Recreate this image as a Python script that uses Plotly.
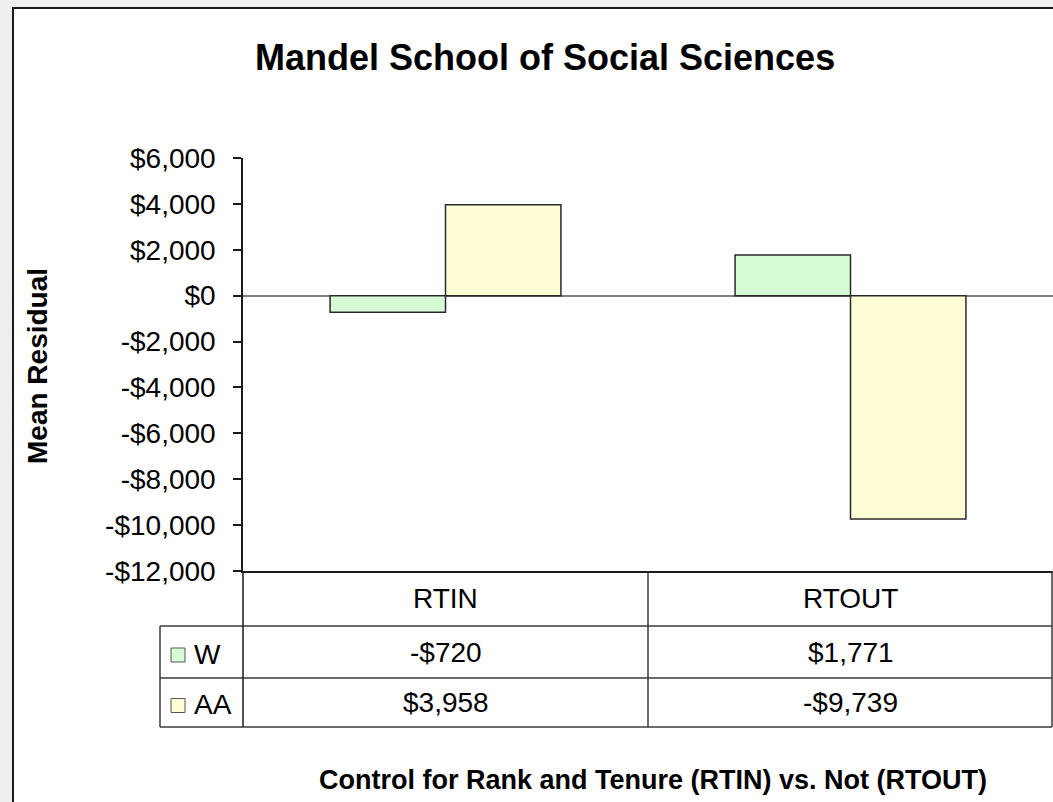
import plotly.graph_objects as go

# ---- data ----
categories = ["RTIN", "RTOUT"]
series_names = ["W", "AA"]
w_values = [-720, 1771]
aa_values = [3958, -9739]
tick_values = [6000, 4000, 2000, 0, -2000, -4000, -6000, -8000, -10000, -12000]
tick_labels = ["$6,000", "$4,000", "$2,000", "$0", "-$2,000", "-$4,000",
               "-$6,000", "-$8,000", "-$10,000", "-$12,000"]
series_colors = ["#D5FCD5", "#FFFDD5"]
title_text = "Mandel School of Social Sciences"
y_title = "Mean Residual"
x_title = "Control for Rank and Tenure (RTIN) vs. Not (RTOUT)"

W, H = 1053, 802
PL, PR, PT, PB = 243, 1053, 158, 571  # plot area in pixels
FONT = "Liberation Sans, Arial, sans-serif"


def px(x):
    return (x - PL) / (PR - PL)


def py(y):
    return (PB - y) / (PB - PT)


def money(v):
    return ("-" if v < 0 else "") + "${:,}".format(abs(v))


series_values = [w_values, aa_values]

fig = go.Figure()
for name, vals, col in zip(series_names, series_values, series_colors):
    fig.add_trace(go.Bar(
        x=categories, y=vals, name=name,
        marker=dict(color=col, line=dict(color="#2a2a2a", width=1.5)),
        hoverinfo="x+y+name",
    ))

shapes = []
# white chart area with black border
shapes.append(dict(type="rect", xref="paper", yref="paper", layer="below",
                   x0=px(13), x1=px(1070), y0=py(8), y1=py(820),
                   fillcolor="white", line=dict(color="#1a1a1a", width=2)))

LINE = dict(color="#3a3a3a", width=1.5)
# table horizontal lines
for yy, x0 in [(626, 160), (678, 160), (727, 160)]:
    shapes.append(dict(type="line", xref="paper", yref="paper",
                       x0=px(x0), x1=px(1052), y0=py(yy), y1=py(yy), line=LINE))
# table vertical lines
shapes.append(dict(type="line", xref="paper", yref="paper",
                   x0=px(160), x1=px(160), y0=py(626), y1=py(727), line=LINE))
shapes.append(dict(type="line", xref="paper", yref="paper",
                   x0=px(243), x1=px(243), y0=py(571), y1=py(727), line=dict(color="#1a1a1a", width=1.5)))
shapes.append(dict(type="line", xref="x", yref="paper",
                   x0=0.5, x1=0.5, y0=py(571), y1=py(727), line=LINE))
shapes.append(dict(type="line", xref="paper", yref="paper",
                   x0=px(1052), x1=px(1052), y0=py(571), y1=py(727), line=LINE))

# legend keys in table
row_centers = [652, 702.5]
for rc, col in zip(row_centers, series_colors):
    shapes.append(dict(type="rect", xref="paper", yref="paper",
                       x0=px(171), x1=px(185), y0=py(rc - 4), y1=py(rc + 10),
                       fillcolor=col, line=dict(color="#555555", width=1)))

annotations = []
# header row
for c in categories:
    annotations.append(dict(x=c, xref="x", y=py(598), yref="paper", text=c,
                            showarrow=False, font=dict(family=FONT, size=28, color="black"),
                            xanchor="center", yanchor="middle"))
# values
for rc, name, vals in zip(row_centers, series_names, series_values):
    annotations.append(dict(x=px(192), xref="paper", y=py(rc + 2), yref="paper", text=name,
                            showarrow=False, font=dict(family=FONT, size=28, color="black"),
                            xanchor="left", yanchor="middle"))
    for c, v in zip(categories, vals):
        annotations.append(dict(x=c, xref="x", y=py(rc), yref="paper", text=money(v),
                                showarrow=False, font=dict(family=FONT, size=28, color="black"),
                                xanchor="center", yanchor="middle"))
# titles
annotations.append(dict(x=px(545), xref="paper", y=py(58), yref="paper", text="<b>" + title_text + "</b>",
                        showarrow=False, font=dict(family=FONT, size=36, color="black"),
                        xanchor="center", yanchor="middle"))
annotations.append(dict(x=px(37), xref="paper", y=py(366), yref="paper", text="<b>" + y_title + "</b>",
                        showarrow=False, font=dict(family=FONT, size=28, color="black"),
                        textangle=-90, xanchor="center", yanchor="middle"))
annotations.append(dict(x=px(653), xref="paper", y=py(780), yref="paper", text="<b>" + x_title + "</b>",
                        showarrow=False, font=dict(family=FONT, size=27, color="black"),
                        xanchor="center", yanchor="middle"))

fig.update_layout(
    width=W, height=H,
    margin=dict(l=PL, r=W - PR, t=PT, b=H - PB, pad=0),
    paper_bgcolor="#EEEEEE",
    plot_bgcolor="rgba(0,0,0,0)",
    barmode="group", bargap=0.43, bargroupgap=0,
    showlegend=False,
    shapes=shapes, annotations=annotations,
    font=dict(family=FONT, size=28, color="black"),
)
fig.update_xaxes(showticklabels=False, showline=True, linecolor="#1a1a1a", linewidth=1.5,
                 ticks="", showgrid=False, zeroline=False, range=[-0.5, 1.5])
fig.update_yaxes(range=[-12000, 6000], tickvals=tick_values, ticktext=tick_labels,
                 ticks="outside", ticklen=8, tickwidth=1.5, tickcolor="#1a1a1a",
                 ticklabelstandoff=12,
                 showline=True, linecolor="#1a1a1a", linewidth=1.5,
                 showgrid=False, zeroline=True, zerolinecolor="#808080", zerolinewidth=1.5,
                 tickfont=dict(family=FONT, size=28, color="black"))

fig.write_html("out.html", config={"displayModeBar": False},
               post_script="document.body.style.margin='0';document.body.style.overflow='hidden';")
